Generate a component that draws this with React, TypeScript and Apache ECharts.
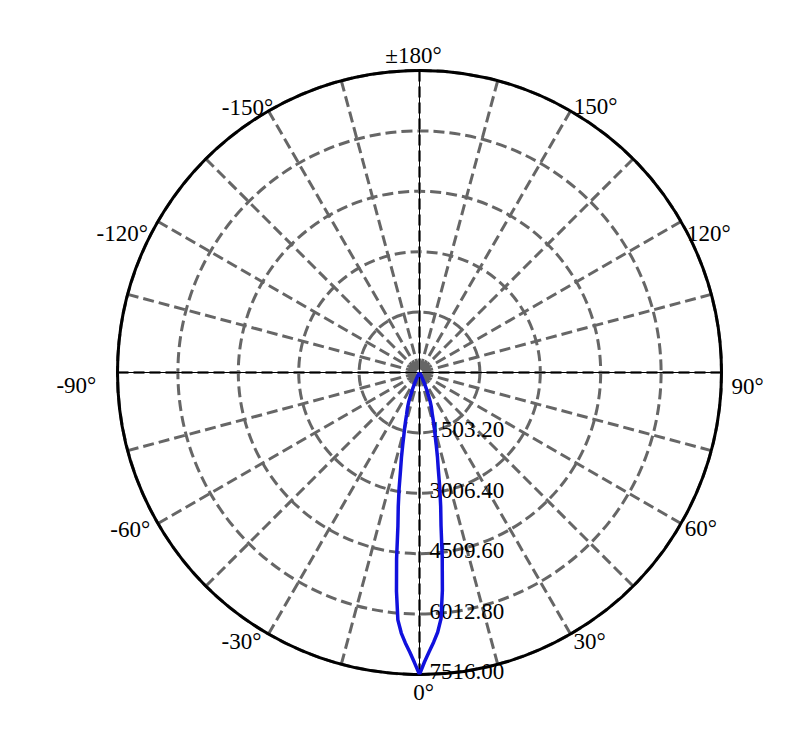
import React, { useRef, useEffect } from 'react';
import * as echarts from 'echarts';

// 径向刻度
const RADIUS_MAX = 7516;
const RADIUS_STEP = 1503.2;
const ANGLE_STEP = 15;
const ANGLE_LABEL_R = RADIUS_MAX * 1.06;

// 右半边光强 (0° → 180°)
const rightAngles = [0, 1, 2, 3, 4, 5, 6, 7, 8, 9, 10, 11, 12, 13, 14, 15, 16, 17, 18, 19, 20, 21, 22, 23, 24, 25, 26, 28, 30, 35, 40, 90, 180];
const rightValues = [7516, 7200, 6950, 6720, 6480, 6150, 5450, 4640, 3850, 3370, 2900, 2450, 2150, 1850, 1600, 1420, 1250, 1090, 990, 900, 790, 650, 520, 420, 310, 220, 150, 70, 30, 10, 0, 0, 0];

// 左半边光强 (-1° → -180°)
const leftAngles = [-1, -2, -3, -4, -5, -6, -7, -8, -9, -10, -11, -12, -13, -14, -15, -16, -17, -18, -19, -20, -21, -22, -23, -24, -25, -26, -28, -30, -35, -40, -90, -180];
const leftValues = [7220, 6960, 6740, 6500, 6180, 5480, 4680, 3860, 3380, 2920, 2470, 2160, 1860, 1610, 1430, 1260, 1100, 1000, 900, 790, 650, 520, 420, 310, 220, 150, 70, 30, 10, 0, 0, 0];

// 角度标签
const angleLabelValues = [0, 30, 60, 90, 120, 150, 180, 210, 240, 270, 300, 330];
const angleLabelTexts = ['0°', '30°', '60°', '90°', '120°', '150°', '±180°', '-150°', '-120°', '-90°', '-60°', '-30°'];
// 标签微调 (px)
const angleLabelNudge = [[4, 0], [10, -8], [4, -4], [8, 14], [12, 21], [16, 11], [-6, 3], [-12, 12], [-20, 21], [-23, 13], [-12, -3], [-18, -8]];

// 0°/180° 与 ±90° 两条细黑轴线
const crossVertical = [0, 0, 180];
const crossHorizontal = [90, 0, 270];
const crossRadii = [RADIUS_MAX, 0, RADIUS_MAX];

const FONT = '"Liberation Serif", "Times New Roman", serif';

const App: React.FC = () => {
  const chartRef = useRef<HTMLDivElement>(null);

  useEffect(() => {
    if (!chartRef.current) return;
    document.body.style.margin = '0';
    const chart = echarts.init(chartRef.current, undefined, { renderer: 'svg' });

    const curve: number[][] = [];
    for (let i = leftAngles.length - 1; i >= 0; i--) {
      curve.push([leftValues[i], 360 + leftAngles[i]]);
    }
    rightAngles.forEach((a, i) => curve.push([rightValues[i], a]));

    const gridLine = { color: '#666', width: 3, type: [11, 5] };

    const option = {
      animation: false,
      polar: { center: [419.5, 372.5], radius: 302 },
      angleAxis: {
        type: 'value',
        min: 0,
        max: 360,
        interval: ANGLE_STEP,
        startAngle: -90,
        clockwise: false,
        axisLine: { lineStyle: { color: '#000', width: 3 } },
        axisTick: { show: false },
        axisLabel: { show: false },
        splitLine: { lineStyle: gridLine },
      },
      radiusAxis: {
        type: 'value',
        min: 0,
        max: RADIUS_MAX,
        interval: RADIUS_STEP,
        axisLine: { show: false },
        axisTick: { show: false },
        axisLabel: {
          color: '#000',
          fontSize: 23,
          fontFamily: FONT,
          margin: 10,
          verticalAlign: 'bottom',
          lineHeight: 6,
          formatter: (v: number) => (v === 0 ? '' : v.toFixed(2)),
        },
        splitLine: { lineStyle: gridLine },
      },
      series: [
        {
          type: 'line',
          coordinateSystem: 'polar',
          symbol: 'none',
          silent: true,
          lineStyle: { color: '#000', width: 1 },
          data: crossVertical.map((a, i) => [crossRadii[i], a]),
        },
        {
          type: 'line',
          coordinateSystem: 'polar',
          symbol: 'none',
          silent: true,
          lineStyle: { color: '#000', width: 1 },
          data: crossHorizontal.map((a, i) => [crossRadii[i], a]),
        },
        {
          type: 'line',
          coordinateSystem: 'polar',
          symbol: 'none',
          lineStyle: { color: '#1111dd', width: 3.5 },
          data: curve,
        },
        {
          // 角度刻度文字
          type: 'scatter',
          coordinateSystem: 'polar',
          clip: false,
          silent: true,
          symbolSize: 1,
          itemStyle: { color: 'transparent', opacity: 1 },
          label: {
            show: true,
            position: 'inside',
            color: '#000',
            opacity: 1,
            textBorderWidth: 0,
            fontSize: 23,
            fontFamily: FONT,
            formatter: (p: any) => angleLabelTexts[p.dataIndex],
          },
          data: angleLabelValues.map((a, i) => ({
            value: [ANGLE_LABEL_R, a],
            label: { offset: angleLabelNudge[i] },
          })),
        },
      ],
    };
    chart.setOption(option);

    return () => {
      chart.dispose();
    };
  }, []);

  return <div ref={chartRef} style={{ width: 807, height: 729 }} />;
};

export default App;
